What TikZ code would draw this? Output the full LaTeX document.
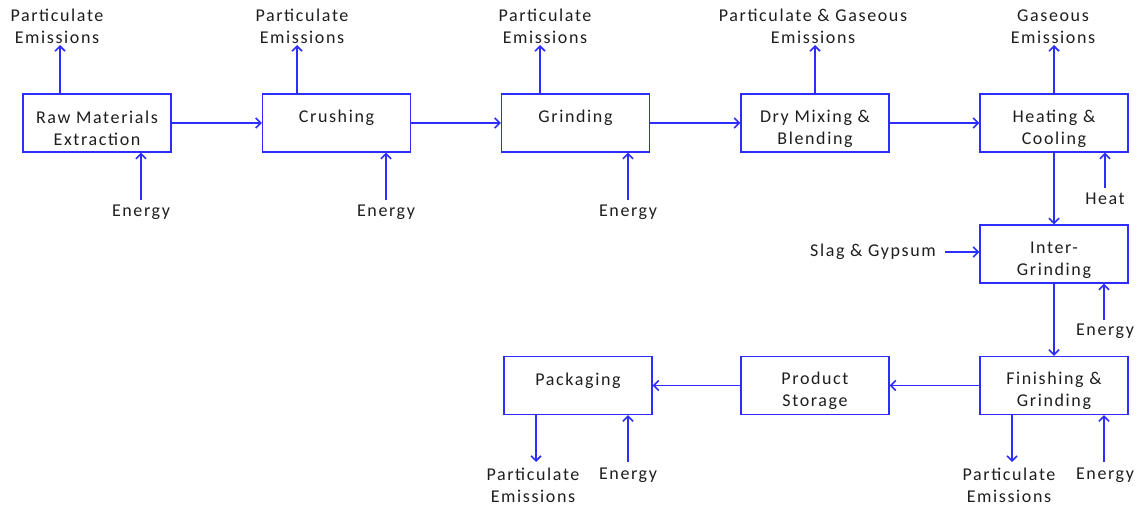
\documentclass[tikz,border=0pt]{standalone}
\usepackage{fontspec}
\setmainfont{Carlito}[LetterSpace=9]
\usetikzlibrary{arrows.meta}
\definecolor{flowblue}{RGB}{45,45,255}
\definecolor{inkgray}{RGB}{30,30,30}
\tikzset{every node/.style={font=\fontsize{18}{22}\selectfont, text=inkgray},
  box/.style={draw=flowblue, line width=1.4pt, minimum width=148pt, minimum height=58pt, align=center, inner sep=0pt},
  lbl/.style={align=center, inner sep=1pt},
  flow/.style={draw=flowblue, line width=1.6pt, -{Straight Barb[length=5pt,width=10pt]}}}
\newcommand{\boxlines}[2]{\rule{0pt}{24pt}#1\\#2}

\begin{document}
\begin{tikzpicture}[x=1pt, y=-1pt]
\useasboundingbox (0,0) rectangle (1144,506);

% process boxes
\node[box] (raw) at (97,123) {\boxlines{Raw Materials}{Extraction}};
\node[box] (crush) at (336.5,123) {\boxlines{Crushing}{\phantom{Xy}}};
\node[box] (grind) at (575.5,123) {\boxlines{Grinding}{\phantom{Xy}}};
\node[box] (mix) at (815,123) {\boxlines{Dry Mixing \&}{Blending}};
\node[box] (heat) at (1054,123) {\boxlines{Heating \&}{Cooling}};
\node[box] (inter) at (1054,254) {\boxlines{Inter-}{Grinding}};
\node[box] (finish) at (1054,385.5) {\boxlines{Finishing \&}{Grinding}};
\node[box] (store) at (815,385.5) {\boxlines{Product}{Storage}};
\node[box] (pack) at (578,385.5) {\boxlines{Packaging}{\phantom{Xy}}};

% outputs and inputs
\node[lbl, anchor=south] (em1) at (57,45) {Particulate\\Emissions};
\node[lbl, anchor=south] (em2) at (302,45) {Particulate\\Emissions};
\node[lbl, anchor=south] (em3) at (545,45) {Particulate\\Emissions};
\node[lbl, anchor=south] (em4) at (813,45) {Particulate \& Gaseous\\Emissions};
\node[lbl, anchor=south] (em5) at (1053,45) {Gaseous\\Emissions};
\node[lbl, anchor=north] (en1) at (141,204) {Energy};
\node[lbl, anchor=north] (en2) at (386,204) {Energy};
\node[lbl, anchor=north] (en3) at (628,204) {Energy};
\node[lbl, anchor=north] (hin) at (1105,192) {Heat};
\node[lbl, anchor=east] (slag) at (937,252) {Slag \& Gypsum};
\node[lbl, anchor=north] (en4) at (1105,323) {Energy};
\node[lbl, anchor=north] (en5) at (1105,467) {Energy};
\node[lbl, anchor=north] (em6) at (1009,467) {Particulate\\Emissions};
\node[lbl, anchor=north] (en6) at (628,467) {Energy};
\node[lbl, anchor=north] (em7) at (533,467) {Particulate\\Emissions};

% main flow
\draw[flow] (raw) -- (crush);
\draw[flow] (crush) -- (grind);
\draw[flow] (grind) -- (mix);
\draw[flow] (mix) -- (heat);
\draw[flow] (heat) -- (inter);
\draw[flow] (inter) -- (finish);
\draw[flow] (finish) -- (store);
\draw[flow] (store) -- (pack);

% emissions
\draw[flow] ([xshift=3pt]em1.south |- raw.north) -- ([xshift=3pt]em1.south);
\draw[flow] ([xshift=-5pt]em2.south |- crush.north) -- ([xshift=-5pt]em2.south);
\draw[flow] ([xshift=-5pt]em3.south |- grind.north) -- ([xshift=-5pt]em3.south);
\draw[flow] ([xshift=2pt]em4.south |- mix.north) -- ([xshift=2pt]em4.south);
\draw[flow] ([xshift=1pt]em5.south |- heat.north) -- ([xshift=1pt]em5.south);
\draw[flow] ([xshift=3pt]em6.north |- finish.south) -- ([xshift=3pt,yshift=5pt]em6.north);
\draw[flow] ([xshift=3pt]em7.north |- pack.south) -- ([xshift=3pt,yshift=5pt]em7.north);

% energy and other inputs
\draw[flow] ([yshift=4pt]en1.north) -- (en1.north |- raw.south);
\draw[flow] ([yshift=4pt]en2.north) -- (en2.north |- crush.south);
\draw[flow] ([yshift=4pt]en3.north) -- (en3.north |- grind.south);
\draw[flow] ([yshift=4pt]hin.north) -- (hin.north |- heat.south);
\draw[flow] ([xshift=-1pt,yshift=3pt]en4.north) -- ([xshift=-1pt]en4.north |- inter.south);
\draw[flow] ([xshift=-1pt,yshift=5pt]en5.north) -- ([xshift=-1pt]en5.north |- finish.south);
\draw[flow] ([yshift=5pt]en6.north) -- (en6.north |- pack.south);
\draw[flow] ([xshift=8pt]slag.east) -- (inter.west |- slag.east);
\end{tikzpicture}
\end{document}
